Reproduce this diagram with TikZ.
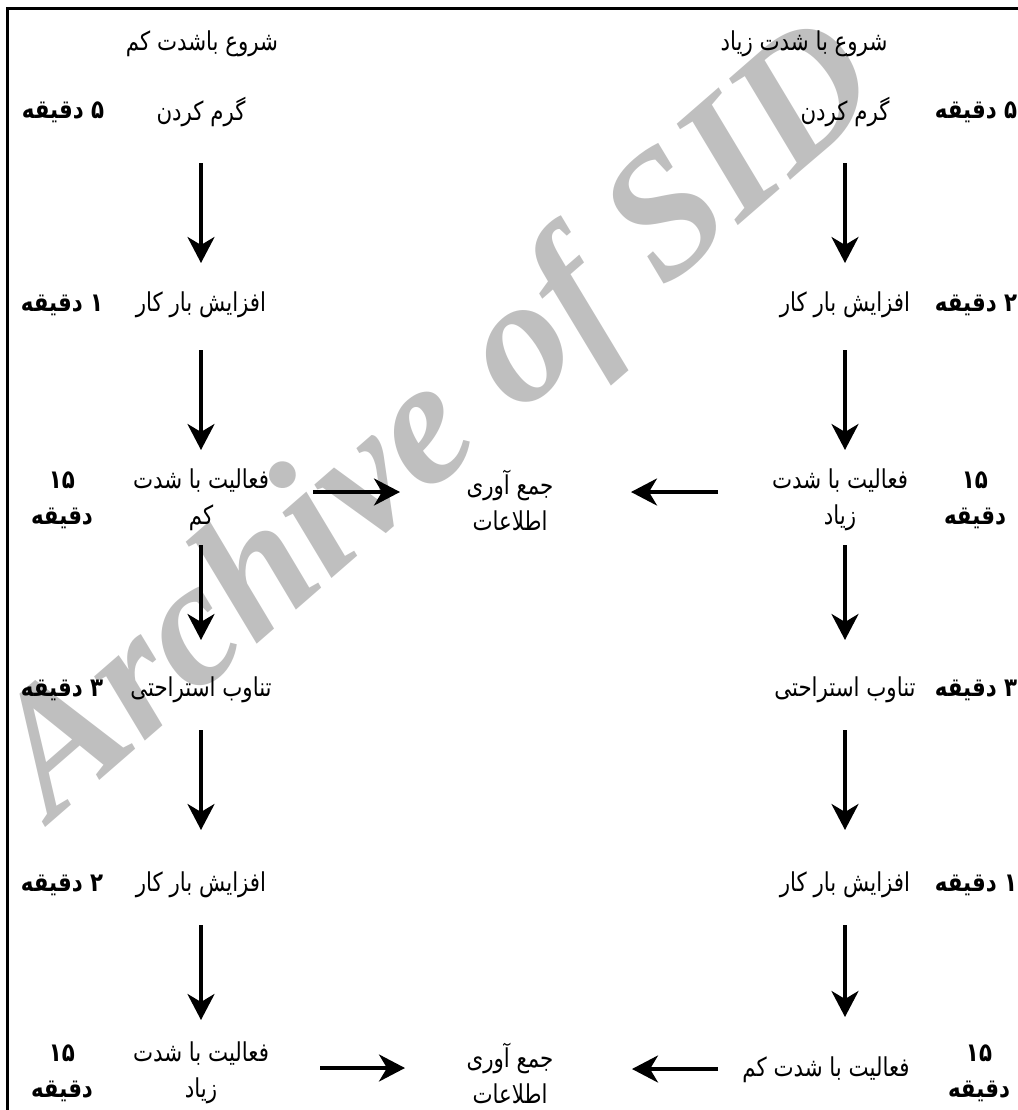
\documentclass[tikz,border=0pt]{standalone}
\usepackage{fontspec}
\usetikzlibrary{arrows.meta}
\TeXXeTstate=1
\newfontfamily\fa[Script=Arabic,FakeStretch=0.82]{DejaVu Sans}
\newfontfamily\wmfont{Liberation Serif}
\newcommand{\rl}[1]{\beginR #1\endR}
\tikzset{
  lbl/.style={font=\fa\fontsize{13}{18}\selectfont, align=center, inner sep=0pt},
  dur/.style={font=\fa\bfseries\fontsize{13}{18}\selectfont, align=center, inner sep=0pt},
  arr/.style={line width=1.8pt, -{Stealth[length=13pt,width=13.5pt,inset=4pt]}},
  frame/.style={line width=1.5pt}
}
\begin{document}
\begin{tikzpicture}[x=0.5pt,y=-0.5pt]
\useasboundingbox (0,0) rectangle (1018,1110);
% watermark
\node[rotate=41, text=black!25, font=\wmfont\fontsize{89}{89}\selectfont\bfseries\itshape] (wm) at (442,425) {Archive of SID};
% frame
\draw[frame] (1018,8.5) -- (7.5,8.5) -- (7.5,1110);
% titles
\node[lbl] (tl) at (202,44) {\rl{شروع باشدت کم}};
\node[lbl] (tr) at (804,44) {\rl{شروع با شدت زیاد}};
% left column
\node[lbl] (l1) at (201,112) {\rl{گرم کردن}};
\node[lbl] (l2) at (201,305) {\rl{افزایش بار کار}};
\node[lbl] (l3) at (201,500) {\rl{فعالیت با شدت}\\\rl{کم}};
\node[lbl] (l4) at (201,690) {\rl{تناوب استراحتی}};
\node[lbl] (l5) at (201,885) {\rl{افزایش بار کار}};
\node[lbl] (l6) at (201,1073) {\rl{فعالیت با شدت}\\\rl{زیاد}};
% left durations
\node[dur] (ld1) at (63,112) {\rl{۵ دقیقه}};
\node[dur] (ld2) at (62,305) {\rl{۱ دقیقه}};
\node[dur] (ld3) at (62,500) {۱۵\\\rl{دقیقه}};
\node[dur] (ld4) at (62,690) {\rl{۳ دقیقه}};
\node[dur] (ld5) at (62,885) {\rl{۲ دقیقه}};
\node[dur] (ld6) at (62,1073) {۱۵\\\rl{دقیقه}};
% right column
\node[lbl] (r1) at (845,112) {\rl{گرم کردن}};
\node[lbl] (r2) at (845,305) {\rl{افزایش بار کار}};
\node[lbl] (r3) at (840,500) {\rl{فعالیت با شدت}\\\rl{زیاد}};
\node[lbl] (r4) at (845,690) {\rl{تناوب استراحتی}};
\node[lbl] (r5) at (845,885) {\rl{افزایش بار کار}};
\node[lbl] (r6) at (826,1070) {\rl{فعالیت با شدت کم}};
% right durations
\node[dur] (rd1) at (976,112) {\rl{۵ دقیقه}};
\node[dur] (rd2) at (976,305) {\rl{۲ دقیقه}};
\node[dur] (rd3) at (975,500) {۱۵\\\rl{دقیقه}};
\node[dur] (rd4) at (976,690) {\rl{۳ دقیقه}};
\node[dur] (rd5) at (976,885) {\rl{۱ دقیقه}};
\node[dur] (rd6) at (979,1073) {۱۵\\\rl{دقیقه}};
% center
\node[lbl] (c1) at (510,500) {\rl{جمع آوری}\\\rl{اطلاعات}};
\node[lbl] (c2) at (510,1073) {\rl{جمع آوری}\\\rl{اطلاعات}};
% vertical arrows left
\draw[arr] ([yshift=-25.5pt]l1.center) -- ([yshift=21pt]l2.center);
\draw[arr] ([yshift=-22.5pt]l2.center) -- ([yshift=25pt]l3.center);
\draw[arr] ([yshift=-22.5pt]l3.center) -- ([yshift=25pt]l4.center);
\draw[arr] ([yshift=-20pt]l4.center) -- ([yshift=27.5pt]l5.center);
\draw[arr] ([yshift=-20pt]l5.center) -- ([yshift=26.5pt]l6.center);
% vertical arrows right
\draw[arr] ([yshift=-25.5pt]r1.center) -- ([yshift=21pt]r2.center);
\draw[arr] ([yshift=-22.5pt]r2.center) -- ([yshift=25pt]r3.center -| r2.center);
\draw[arr] ([yshift=-22.5pt]r3.center -| r2.center) -- ([yshift=25pt]r4.center);
\draw[arr] ([yshift=-20pt]r4.center) -- ([yshift=27.5pt]r5.center);
\draw[arr] ([yshift=-20pt]r5.center) -- ([yshift=26.5pt]r6.center -| r5.center);
% horizontal arrows
\draw[arr] ([xshift=56pt,yshift=4pt]l3.center) -- ([xshift=-55pt,yshift=4pt]c1.center);
\draw[arr] ([xshift=-61pt,yshift=4pt]r3.center) -- ([xshift=60.5pt,yshift=4pt]c1.center);
\draw[arr] ([xshift=59.5pt,yshift=2.5pt]l6.center) -- ([xshift=-52.5pt,yshift=2.5pt]c2.center);
\draw[arr] ([xshift=-54pt,yshift=0.5pt]r6.center) -- ([xshift=61pt,yshift=2pt]c2.center);
\end{tikzpicture}
\end{document}
